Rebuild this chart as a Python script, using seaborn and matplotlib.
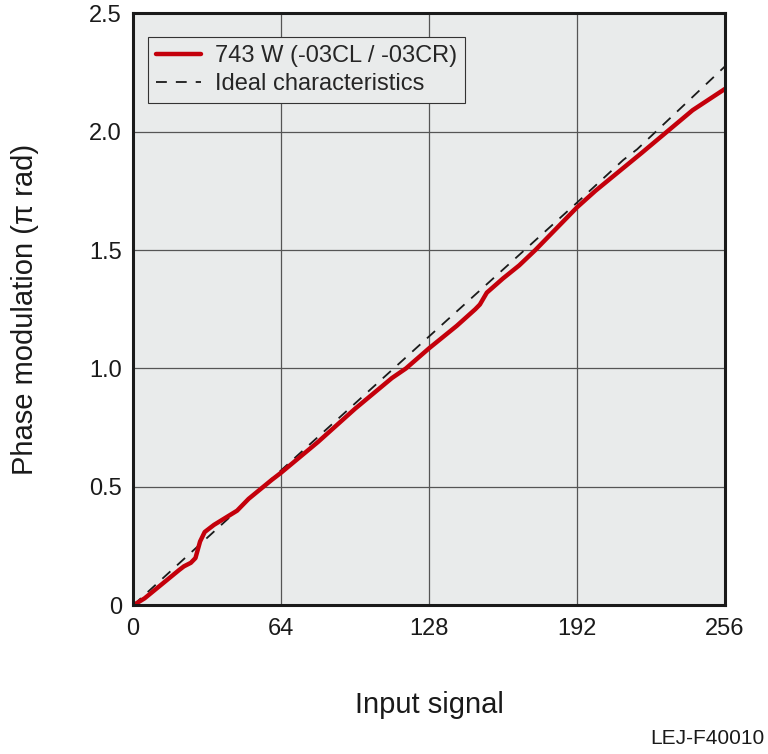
import numpy as np
import pandas as pd
import matplotlib
matplotlib.use('Agg')
import matplotlib.pyplot as plt
import seaborn as sns

signal = [0, 5, 10, 15, 20, 22, 25, 27, 29, 31, 35, 40, 45, 50, 55, 60, 64, 80, 96, 112,
          118, 128, 140, 148, 150, 153, 160, 167, 174, 180, 192, 200, 210, 220, 231, 242, 256]
phase = [0, 0.03, 0.07, 0.11, 0.15, 0.165, 0.18, 0.2, 0.27, 0.31, 0.34, 0.37, 0.40, 0.45, 0.49,
         0.53, 0.56, 0.69, 0.83, 0.96, 1.0, 1.085, 1.18, 1.25, 1.27, 1.32, 1.38, 1.435, 1.5, 1.56,
         1.68, 1.75, 1.83, 1.91, 2.0, 2.09, 2.18]

# ideal characteristics
ideal_x = [0, 64, 128, 192, 212, 218, 256]
ideal_y = [0, 0.57, 1.135, 1.70, 1.88, 1.925, 2.275]

xticks = [0, 64, 128, 192, 256]
yticks = [0, 0.5, 1.0, 1.5, 2.0, 2.5]
ytick_labels = ['0', '0.5', '1.0', '1.5', '2.0', '2.5']

sns.set_style('white', {'axes.facecolor': '#e9ebeb', 'axes.edgecolor': '#1a1a1a'})
plt.rcParams['font.family'] = ['Liberation Sans', 'DejaVu Sans']

fig = plt.figure(figsize=(7.68, 7.54), dpi=100)
ax = fig.add_axes([0.1732, 0.197, 0.7708, 0.7857])

df = pd.DataFrame({'Input signal': signal, 'Phase': phase})
ideal = pd.DataFrame({'Input signal': ideal_x, 'Phase': ideal_y})

sns.lineplot(data=ideal, x='Input signal', y='Phase', ax=ax, color='#1a1a1a', lw=1.3,
             linestyle=(0, (6, 5)), label='Ideal characteristics', zorder=3)
sns.lineplot(data=df, x='Input signal', y='Phase', ax=ax, color='#c4000b', lw=3.2,
             label='743 W (-03CL / -03CR)', zorder=4)

ax.set_xlim(0, 256)
ax.set_ylim(0, 2.5)
ax.set_xticks(xticks)
ax.set_xticklabels([str(t) for t in xticks])
ax.set_yticks(yticks)
ax.set_yticklabels(ytick_labels)
ax.tick_params(length=0, labelsize=17, colors='#1a1a1a')
ax.tick_params(axis='y', pad=8)
ax.tick_params(axis='x', pad=9)
ax.grid(True, color='#555555', lw=0.9)
for s in ax.spines.values():
    s.set_linewidth(2.2)
    s.set_zorder(5)

ax.set_xlabel('Input signal', fontsize=21, labelpad=37, color='#1a1a1a')
ax.set_ylabel('Phase modulation (\u03c0 rad)', fontsize=21, labelpad=36, color='#1a1a1a')

handles, labels = ax.get_legend_handles_labels()
leg = ax.legend(handles[::-1], labels[::-1], loc='upper left', bbox_to_anchor=(0.025, 0.96),
                fontsize=17, frameon=True, fancybox=False, framealpha=1, edgecolor='#333333',
                handlelength=1.9, handletextpad=0.6, borderpad=0.35, labelspacing=0.25,
                borderaxespad=0)
leg.get_frame().set_linewidth(0.8)

fig.text(0.995, 0.008, 'LEJ-F40010', ha='right', va='bottom', fontsize=15, color='#1a1a1a')

fig.savefig('out.png', dpi=100)
